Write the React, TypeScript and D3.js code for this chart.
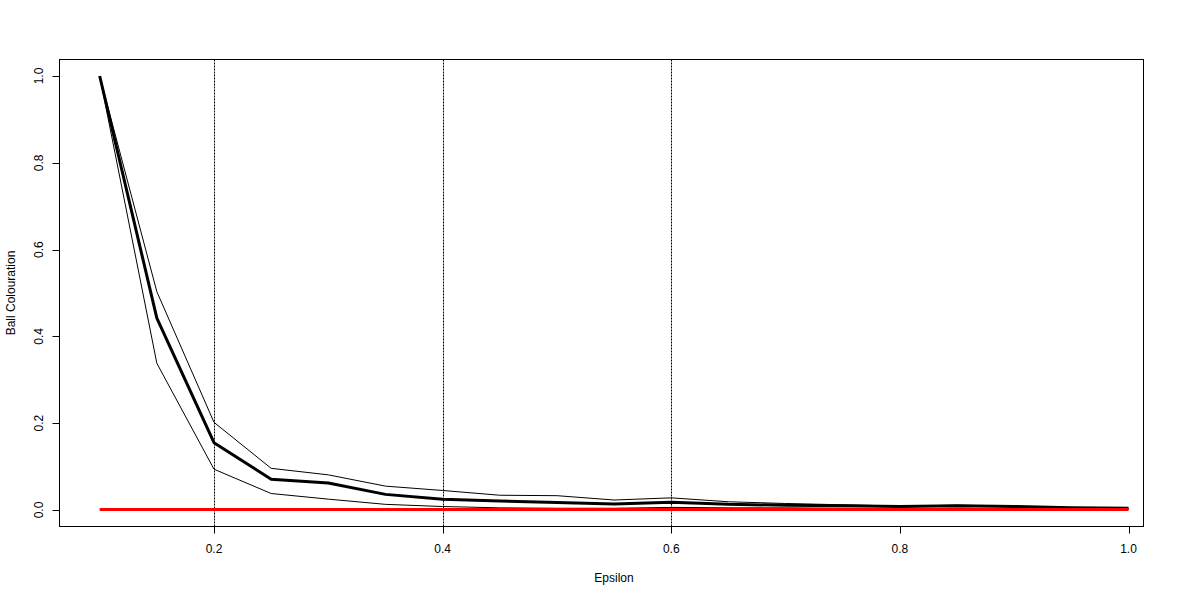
import React from "react";
import * as d3 from "d3";

const epsilon = [0.1, 0.15, 0.2, 0.25, 0.3, 0.35, 0.4, 0.45, 0.5, 0.55, 0.6, 0.65, 0.7, 0.75, 0.8, 0.85, 0.9, 0.95, 1.0];
const meanValues = [1.0, 0.442, 0.155, 0.071, 0.062, 0.036, 0.025, 0.021, 0.017, 0.014, 0.018, 0.013, 0.011, 0.01, 0.008, 0.01, 0.008, 0.005, 0.004];
const upperValues = [1.0, 0.503, 0.202, 0.096, 0.081, 0.055, 0.045, 0.034, 0.033, 0.023, 0.028, 0.019, 0.015, 0.012, 0.009, 0.011, 0.009, 0.005, 0.004];
const lowerValues = [1.0, 0.338, 0.094, 0.038, 0.025, 0.013, 0.008, 0.005, 0.004, 0.004, 0.006, 0.005, 0.005, 0.004, 0.003, 0.004, 0.003, 0.003, 0.003];
const baselineValues = epsilon.map(() => 0.001);
const vLines = [0.2, 0.4, 0.6];
const xTicks = [0.2, 0.4, 0.6, 0.8, 1.0];
const yTicks = [0.0, 0.2, 0.4, 0.6, 0.8, 1.0];

export default function App() {
  const left = 59.5, right = 1143.5, top = 59.5, bottom = 526.5;
  const x = d3.scaleLinear().domain([0.2, 1.0]).range([214, 1128.5]);
  const y = d3.scaleLinear().domain([0, 1]).range([510, 76]);
  const line = (vals: number[]) =>
    d3.line<number>().x((_, i) => x(epsilon[i])).y((d) => y(d))(vals) || "";
  const font = "Liberation Sans, Arial, sans-serif";
  return (
    <svg width={1200} height={600} style={{ position: "absolute", left: 0, top: 0, background: "#fff" }} fontFamily={font}>
      <rect x={0} y={0} width={1200} height={600} fill="#fff" />
      {vLines.map((v) => (
        <line key={v} x1={Math.round(x(v)) + 0.5} x2={Math.round(x(v)) + 0.5} y1={top} y2={bottom} stroke="#000" strokeWidth={1} strokeDasharray="2,1" />
      ))}
      <path d={line(meanValues)} fill="none" stroke="#000" strokeWidth={3} strokeLinejoin="round" />
      <path d={line(upperValues)} fill="none" stroke="#000" strokeWidth={1} />
      <path d={line(lowerValues)} fill="none" stroke="#000" strokeWidth={1} />
      <path d={line(baselineValues)} fill="none" stroke="#ff0000" strokeWidth={3} />
      <rect x={left} y={top} width={right - left} height={bottom - top} fill="none" stroke="#000" strokeWidth={1} />
      {xTicks.map((t) => (
        <g key={t}>
          <line x1={Math.round(x(t)) + 0.5} x2={Math.round(x(t)) + 0.5} y1={bottom} y2={bottom + 7} stroke="#000" />
          <text x={x(t)} y={553} fontSize={12} textAnchor="middle">{t.toFixed(1)}</text>
        </g>
      ))}
      {yTicks.map((t) => (
        <g key={t}>
          <line x1={left - 7} x2={left} y1={Math.round(y(t)) + 0.5} y2={Math.round(y(t)) + 0.5} stroke="#000" />
          <text transform={`translate(43,${y(t)}) rotate(-90)`} fontSize={12} textAnchor="middle">{t.toFixed(1)}</text>
        </g>
      ))}
      <text x={614} y={582} fontSize={12} textAnchor="middle">Epsilon</text>
      <text transform={`translate(15,293) rotate(-90)`} fontSize={12} textAnchor="middle">Ball Colouration</text>
    </svg>
  );
}
